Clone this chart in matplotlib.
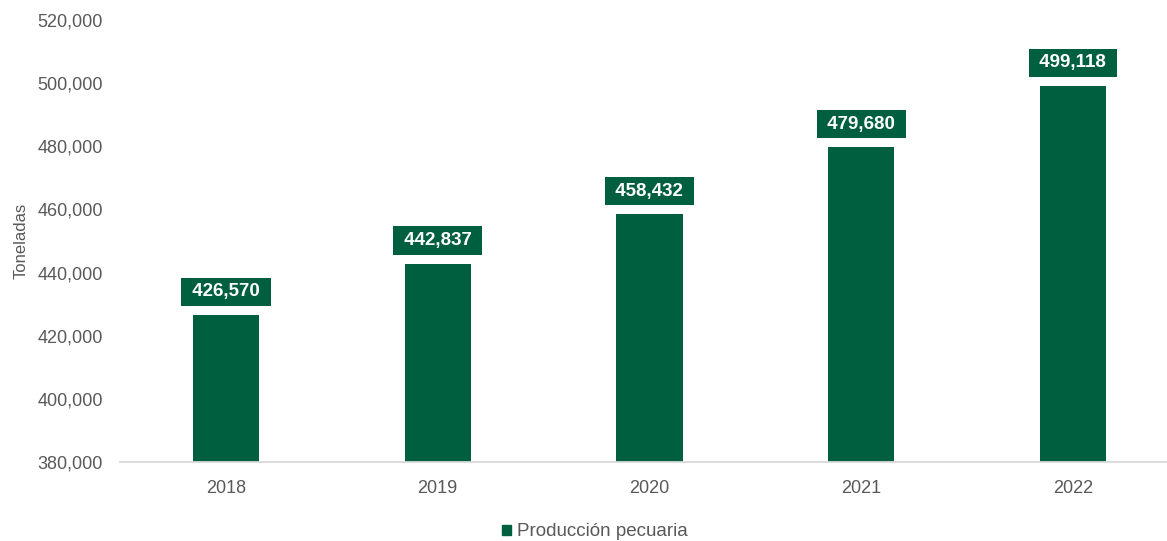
import matplotlib.pyplot as plt
import matplotlib.ticker as mticker
from matplotlib.patches import Patch

years = ["2018", "2019", "2020", "2021", "2022"]
produccion = [426570, 442837, 458432, 479680, 499118]
y_ticks = [380000, 400000, 420000, 440000, 460000, 480000, 500000, 520000]

green = "#005F3F"
gray = "#595959"

plt.rcParams["font.family"] = ["Liberation Sans", "DejaVu Sans"]

fig = plt.figure(figsize=(11.67, 5.41), dpi=100)
ax = fig.add_axes([120 / 1167, 79 / 541, 1047 / 1167, 442 / 541])

x = range(len(years))
ax.bar(x, produccion, width=0.312, color=green, zorder=2)

for xi, v in zip(x, produccion):
    ax.annotate(f" {v:,} ", (xi, v), xytext=(0, 10.5), textcoords="offset points",
                ha="center", va="bottom", color="white", fontsize=13.5,
                fontweight="bold",
                bbox=dict(boxstyle="square,pad=0.3", fc=green, ec="none"))

# category spacing of ~212 px, first bar centred 106 px from the axis start
step = 211.75
ax.set_xlim(-106 / step, -106 / step + 1047 / step)
ax.set_ylim(380000, 520000)
ax.set_yticks(y_ticks)
ax.yaxis.set_major_formatter(mticker.FuncFormatter(lambda v, p: f"{int(v):,}"))
ax.set_xticks(list(x))
ax.set_xticklabels(years)
ax.tick_params(axis="both", length=0, labelsize=13, labelcolor=gray)
ax.tick_params(axis="x", pad=13)
ax.tick_params(axis="y", pad=12.5)

for side in ["top", "right", "left"]:
    ax.spines[side].set_visible(False)
ax.spines["bottom"].set_color("#D9D9D9")
ax.spines["bottom"].set_linewidth(1.3)

ax.set_ylabel("Toneladas", fontsize=12, color=gray)
ax.yaxis.set_label_coords(-0.087, 0.5)

fig.legend(handles=[Patch(color=green, label="Producción pecuaria")],
           loc="center", bbox_to_anchor=(595 / 1167, 1 - 532 / 541),
           frameon=False, fontsize=13.5, handlelength=0.45, handleheight=0.45,
           handletextpad=0.35, labelcolor=gray)

fig.savefig("out.png", dpi=100)
